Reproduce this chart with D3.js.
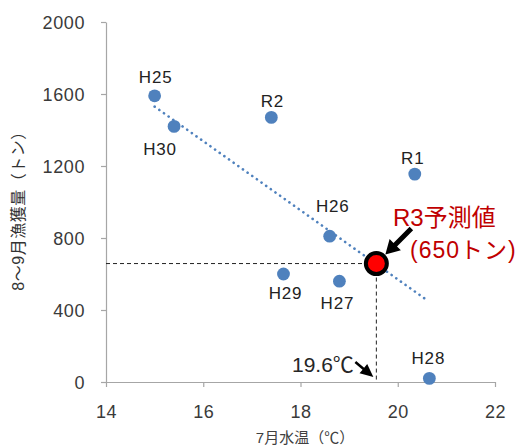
<!DOCTYPE html>
<html><head><meta charset="utf-8">
<script src="https://cdn.jsdelivr.net/npm/d3@7"></script>
<style>
html,body{margin:0;padding:0;background:#fff;}
svg{display:block;}
</style></head>
<body>
<svg id="chart" width="520" height="446"></svg>
<script>
// ---- data ----
const years   = ["H25","H26","H27","H28","H29","H30","R1","R2"];
const temps   = [15.0, 18.6, 18.8, 20.65, 17.65, 15.4, 20.35, 17.4];
const catches = [1590, 810, 560, 20, 600, 1420, 1155, 1470];
const trendX  = [15.0, 20.6];
const trendY  = [1530, 455];
const forecastX = [19.56];
const forecastY = [658];
const forecastTitle = "R3予測値";
const forecastValueLabel = "(650トン)";
const forecastTempLabel = "19.6℃";
const xTicks = [14, 16, 18, 20, 22];
const yTicks = [0, 400, 800, 1200, 1600, 2000];
const xTitle = "7月水温（℃）";
const yTitle = "8～9月漁獲量（トン）";

// ---- layout ----
const svg = d3.select("#chart");
const x = d3.scaleLinear().domain([14, 22]).range([106, 495]);
const y = d3.scaleLinear().domain([0, 2000]).range([382, 22]);
const axisColor = "#a6a6a6";
const numFont = "'Liberation Sans', Arial, sans-serif";
const cjkFont = "'Liberation Sans', 'Noto Sans CJK JP', sans-serif";

// axes
const gy = svg.append("g").attr("transform", `translate(${x(14)},0)`)
  .call(d3.axisLeft(y).tickValues(yTicks).tickSize(5).tickSizeOuter(0).tickFormat(d3.format("d")));
const gx = svg.append("g").attr("transform", `translate(0,${y(0)})`)
  .call(d3.axisBottom(x).tickValues(xTicks).tickSize(5).tickSizeOuter(0).tickFormat(d3.format("d")));
[gx, gy].forEach(g => {
  g.select(".domain").attr("stroke", axisColor).attr("stroke-width", 1.2);
  g.selectAll(".tick line").attr("stroke", axisColor).attr("stroke-width", 1.2);
  g.selectAll(".tick text").attr("fill", "#3a3a3a")
    .style("font-family", numFont).style("font-size", "18px").style("letter-spacing", "0.6px");
});
gy.selectAll(".tick text").attr("x", -21).attr("dy", "0.36em");
gx.selectAll(".tick text").attr("y", 35.5).attr("dy", 0);

// axis titles
svg.append("text").attr("x", 305).attr("y", 443).attr("text-anchor", "middle")
  .style("font-family", cjkFont).style("font-size", "15px").attr("fill", "#404040").text(xTitle);
svg.append("text").attr("transform", "translate(24,207) rotate(-90)").attr("text-anchor", "middle")
  .style("font-family", cjkFont).style("font-size", "16px").style("letter-spacing", "0.5px")
  .attr("fill", "#333").text(yTitle);

// trend line
svg.append("line")
  .attr("x1", x(trendX[0])).attr("y1", y(trendY[0]))
  .attr("x2", x(trendX[1])).attr("y2", y(trendY[1]))
  .attr("stroke", "#4f81bd").attr("stroke-width", 2.6)
  .attr("stroke-linecap", "round").attr("stroke-dasharray", "0.1 5.6");

// forecast guide lines
const fx = x(forecastX[0]), fy = y(forecastY[0]);
svg.append("line").attr("x1", x(14)).attr("y1", fy).attr("x2", fx).attr("y2", fy)
  .attr("stroke", "#222").attr("stroke-width", 1).attr("stroke-dasharray", "4 3");
svg.append("line").attr("x1", fx).attr("y1", fy).attr("x2", fx).attr("y2", y(0))
  .attr("stroke", "#222").attr("stroke-width", 1).attr("stroke-dasharray", "4 3");

// points
const pts = years.map((k, i) => ({k, t: temps[i], c: catches[i]}));
svg.append("g").selectAll("circle").data(pts).join("circle")
  .attr("cx", d => x(d.t)).attr("cy", d => y(d.c)).attr("r", 6.4).attr("fill", "#4f81bd");

// point labels (offsets from point centre)
const labelOffset = {
  H25: [1, -13], H30: [-14, 29], R2: [1, -10], R1: [-2, -10],
  H26: [3, -24], H29: [2, 25], H27: [-2, 28], H28: [-1, -14]
};
svg.append("g").selectAll("text").data(pts).join("text")
  .attr("x", d => x(d.t) + labelOffset[d.k][0])
  .attr("y", d => y(d.c) + labelOffset[d.k][1])
  .attr("text-anchor", "middle")
  .style("font-family", numFont).style("font-size", "17px").style("letter-spacing", "0.8px")
  .attr("fill", "#222").text(d => d.k);

// forecast point
svg.append("circle").attr("cx", fx).attr("cy", fy).attr("r", 10.5)
  .attr("fill", "#ff0000").attr("stroke", "#000").attr("stroke-width", 4);

// arrows
function arrow(x1, y1, x2, y2, w, hl, hw) {
  const dx = x2 - x1, dy = y2 - y1, L = Math.hypot(dx, dy);
  const ux = dx / L, uy = dy / L, nx = -uy, ny = ux;
  const bx = x2 - ux * hl, by = y2 - uy * hl;
  const p = [
    [x1 + nx * w / 2, y1 + ny * w / 2],
    [bx + nx * w / 2, by + ny * w / 2],
    [bx + nx * hw / 2, by + ny * hw / 2],
    [x2, y2],
    [bx - nx * hw / 2, by - ny * hw / 2],
    [bx - nx * w / 2, by - ny * w / 2],
    [x1 - nx * w / 2, y1 - ny * w / 2]
  ];
  svg.append("polygon").attr("points", p.map(q => q.join(",")).join(" ")).attr("fill", "#000");
}
arrow(fx + 35, fy - 35, fx + 9, fy - 9, 5, 14, 16);
arrow(fx - 21, y(0) - 20, fx - 3, y(0) - 5, 2.5, 13, 12);

// forecast annotations
svg.append("text").attr("x", 393).attr("y", 226)
  .style("font-family", cjkFont).style("font-size", "24px").attr("fill", "#c00000").text(forecastTitle);
svg.append("text").attr("x", 410).attr("y", 258)
  .style("font-family", cjkFont).style("font-size", "23px").style("letter-spacing", "1px")
  .attr("fill", "#c00000").text(forecastValueLabel);
svg.append("text").attr("x", 292).attr("y", 372)
  .style("font-family", cjkFont).style("font-size", "21px").attr("fill", "#262626").text(forecastTempLabel);
</script>
</body></html>
